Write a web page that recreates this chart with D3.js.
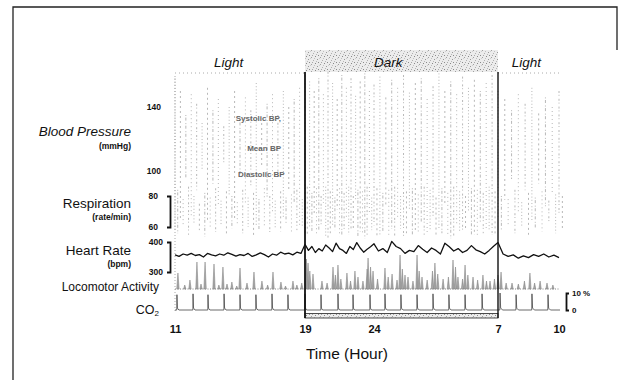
<!DOCTYPE html>
<html><head><meta charset="utf-8">
<script src="https://cdn.jsdelivr.net/npm/d3@7"></script>
<style>
body{margin:0;background:#fff}
svg{display:block}
text{font-family:"Liberation Sans",Arial,Helvetica,sans-serif;fill:#111}
</style>
</head><body>
<svg id="chart" width="620" height="380"></svg>
<script>
// ---------- data ----------
const timeTicks = [11, 19, 24, 31, 34];            // clock hours (next day +24)
const phaseNames = ["Light", "Dark", "Light"];
const phaseStart = [11, 19, 31];
const phaseEnd = [19, 31, 34.05];
const phaseLabelHour = [14.3, 24.8, 32.4];

// blood pressure streaks, every 20 min from 11:00 (mmHg)
const bpStart = 11, bpStep = 1 / 3;
const bpHigh = [158,150,135,148,142,130,152,138,145,128,140,150,132,146,138,155,130,142,148,135,150,140,145,152,
  160,156,150,158,148,162,155,145,160,152,158,147,156,161,150,154,159,146,157,152,160,149,155,158,145,153,161,150,156,148,159,152,157,150,155,160,
  150,145,138,148,142,152,136,146,140,150];
const bpLow = [62,70,95,72,88,100,68,92,78,105,85,70,98,80,90,66,102,84,74,96,70,88,80,66,
  60,64,72,62,80,58,66,76,60,70,64,82,62,58,74,66,60,78,64,70,58,76,62,68,60,72,64,80,58,66,62,74,60,68,64,60,
  70,82,95,74,88,68,92,78,85,72];

// respiration streaks (rate/min), every 20 min from 11:10
const respStart = 11 + 1 / 6, respStep = 1 / 3;
const respHigh = [84,78,86,80,75,82,79,85,77,83,80,76,84,79,82,78,85,80,77,83,79,81,84,78,
  86,82,85,80,86,83,79,85,82,86,80,84,83,86,79,85,82,84,86,80,83,85,81,86,84,79,85,82,86,83,80,85,84,82,86,83,
  80,78,84,76,82,79,83,77,81,80];
const respLow = [56,60,55,62,58,54,60,57,61,55,59,62,56,60,54,58,61,55,59,57,62,56,58,60,
  54,57,55,60,54,56,58,54,57,55,59,54,56,55,58,54,57,55,54,59,56,54,57,55,58,54,56,55,54,57,59,55,54,56,58,55,
  58,61,56,60,55,59,57,62,56,58];

// heart rate (bpm), every 15 min from 11:00
const hrStart = 11, hrStep = 0.25;
const heartRate = [357,352,360,356,362,355,358,350,362,357,354,360,356,364,359,353,358,355,362,352,357,364,358,350,360,356,366,360,363,357,366,362,
  392,372,385,365,378,370,390,380,368,396,378,372,362,385,375,398,380,366,376,384,394,370,378,365,402,385,378,362,372,368,388,376,365,380,372,360,396,384,370,378,365,372,388,374,368,360,372,386,
  398,360,352,357,346,354,348,358,352,360,350,356,348];

// locomotor activity bursts (hour, counts)
const locoHours = [11.18,11.6,11.92,12.35,12.6,12.85,13.4,13.7,13.95,14.2,14.5,14.8,15.0,15.43,15.86,16.35,16.7,17.03,17.52,17.8,18.26,18.5,18.8,
  19.1,19.22,19.35,19.58,20.23,20.6,21.03,21.2,21.39,21.6,22.04,22.3,22.62,22.84,23.2,23.5,23.57,23.75,23.93,24.2,24.62,24.8,25.02,25.3,25.47,25.6,25.75,25.92,26.2,26.43,26.55,26.71,27.0,27.3,27.44,27.6,27.9,28.2,28.46,28.6,28.74,29.0,29.14,29.3,29.59,29.85,30.15,30.35,30.55,30.8,31.0,
  31.15,31.4,31.69,32.0,32.3,32.57,32.8,33.07,33.41,33.7];
const locoValues = [16,4,9,27,5,27,25,4,22,5,7,3,21,6,17,8,4,17,7,3,8,4,6,
  30,26,18,15,8,6,22,14,24,10,16,8,18,12,8,20,31,22,18,10,21,12,15,9,34,20,14,12,8,34,18,12,9,18,26,15,10,12,29,22,12,10,24,14,12,9,14,8,8,10,14,
  17,6,6,5,8,16,6,8,6,4];

// CO2 calibration pulses (hour, %)
const co2Hours = [11.12,12.11,13.03,14.02,15.0,15.98,16.97,17.95,19.0,20.16,21.39,22.48,23.71,24.62,25.52,26.43,27.33,28.23,29.14,30.1,31.1,31.89,32.67,33.46];
const co2Values = [9,9.5,9,9.5,9,9,9.5,9,9.5,9,9.5,9,9,9.5,9,9,9.5,9,9,9.5,10,9,9.5,9];

// ---------- scales ----------
const svg = d3.select("#chart");
const x = d3.scaleLinear().domain(timeTicks).range([175, 305, 374, 498, 559]);
const yBP = d3.scaleLinear().domain([100, 140]).range([171, 107]);
const yResp = d3.scaleLinear().domain([60, 80]).range([227, 196]);
const yHR = d3.scaleLinear().domain([300, 400]).range([272, 242]);
const yLoco = d3.scaleLinear().domain([0, 35]).range([289, 254]);
const yCO2 = d3.scaleLinear().domain([0, 10]).range([310, 293]);

// ---------- defs ----------
const defs = svg.append("defs");
const pat = defs.append("pattern").attr("id", "stip").attr("width", 9).attr("height", 7)
  .attr("patternUnits", "userSpaceOnUse");
pat.append("rect").attr("width", 9).attr("height", 7).attr("fill", "#ececec");
[[0,0,"#888"],[5,1,"#a0a0a0"],[2,3,"#999"],[7,4,"#b0b0b0"],[3,6,"#8c8c8c"],[8,2,"#c0c0c0"],[1,5,"#b8b8b8"],[6,6,"#a8a8a8"],[4,2,"#cfcfcf"]].forEach(p =>
  pat.append("rect").attr("x", p[0]).attr("y", p[1]).attr("width", 1).attr("height", 1).attr("fill", p[2]));

// ---------- outer frame ----------
svg.append("path").attr("d", "M13,380V7H617V50").attr("fill", "none").attr("stroke", "#222").attr("stroke-width", 1.3);

// ---------- phases ----------
svg.append("rect").attr("x", x(19)).attr("y", 50).attr("width", x(31) - x(19)).attr("height", 22)
  .attr("fill", "url(#stip)");
[[11, 19], [31, 34.05]].forEach(r =>
  svg.append("line").attr("x1", x(r[0])).attr("x2", x(r[1])).attr("y1", 73).attr("y2", 73)
    .attr("stroke", "#aaa").attr("stroke-dasharray", "1,3"));
svg.selectAll(".phase").data(phaseNames).join("text")
  .attr("x", (d, i) => x(phaseLabelHour[i])).attr("y", 67)
  .attr("text-anchor", "middle").attr("font-size", 13.5).attr("font-style", "italic").text(d => d);

// faint left edge of recording
svg.append("line").attr("x1", x(11)).attr("x2", x(11)).attr("y1", 76).attr("y2", 312)
  .attr("stroke", "#aaa").attr("stroke-dasharray", "1,2");

// ---------- blood pressure streaks ----------
const dashes = ["1,2.2", "2,3", "1,1.6,3,2.5", "1,3", "2,1.8,1,3"];
svg.append("g").attr("opacity", 0.75).selectAll("line").data(bpHigh).join("line")
  .attr("x1", (d, i) => x(bpStart + i * bpStep)).attr("x2", (d, i) => x(bpStart + i * bpStep))
  .attr("y1", d => yBP(d)).attr("y2", (d, i) => yBP(bpLow[i]))
  .attr("stroke", "#8a8a8a").attr("stroke-width", 0.8)
  .attr("stroke-dasharray", (d, i) => dashes[i % dashes.length]);

// respiration streaks
svg.append("g").attr("opacity", 0.75).selectAll("line").data(respHigh).join("line")
  .attr("x1", (d, i) => x(respStart + i * respStep)).attr("x2", (d, i) => x(respStart + i * respStep))
  .attr("y1", d => yResp(d)).attr("y2", (d, i) => yResp(respLow[i]))
  .attr("stroke", "#8a8a8a").attr("stroke-width", 0.8)
  .attr("stroke-dasharray", (d, i) => dashes[(i + 2) % dashes.length]);

// ---------- heart rate ----------
svg.append("path").datum(heartRate)
  .attr("d", d3.line().x((d, i) => x(hrStart + i * hrStep)).y(d => yHR(d)))
  .attr("fill", "none").attr("stroke", "#111").attr("stroke-width", 1.3).attr("stroke-linejoin", "round");

// ---------- locomotor activity ----------
svg.append("line").attr("x1", x(11)).attr("x2", x(34.05)).attr("y1", yLoco(0)).attr("y2", yLoco(0))
  .attr("stroke", "#888").attr("stroke-dasharray", "1,1.5");
svg.append("g").selectAll("path").data(locoValues).join("path")
  .attr("d", (d, i) => {
    const cx = x(locoHours[i]);
    return `M${cx - 1.2},${yLoco(0)}L${cx},${yLoco(d)}L${cx + 1.2},${yLoco(0)}Z`;
  })
  .attr("fill", "#a8a8a8").attr("stroke", "#7a7a7a").attr("stroke-width", 0.5);

// ---------- CO2 ----------
const co2Pts = [[11, 0]];
co2Hours.forEach((t, i) => {
  co2Pts.push([t - 0.01, 0], [t, co2Values[i]], [t + 0.03, co2Values[i] * 0.12], [t + 0.12, 0]);
});
co2Pts.push([34.05, 0]);
svg.append("path").datum(co2Pts)
  .attr("d", d3.line().x(d => x(d[0])).y(d => yCO2(d[1])))
  .attr("fill", "none").attr("stroke", "#444").attr("stroke-width", 0.8);

// ---------- dark box ----------
svg.append("rect").attr("x", x(19)).attr("y", 313.5).attr("width", x(31) - x(19)).attr("height", 4.5)
  .attr("fill", "url(#stip)").attr("stroke", "#222").attr("stroke-width", 0.8);
svg.append("line").attr("x1", x(19)).attr("x2", x(19)).attr("y1", 72).attr("y2", 318)
  .attr("stroke", "#111").attr("stroke-width", 1.8);
svg.append("line").attr("x1", x(31)).attr("x2", x(31)).attr("y1", 72).attr("y2", 318)
  .attr("stroke", "#111").attr("stroke-width", 1.4);

// ---------- axes ----------
function styleAxis(g, fs, bold) {
  g.selectAll("text").attr("font-size", fs).attr("font-weight", bold ? "bold" : "normal")
    .attr("font-family", '"Liberation Sans",Arial,sans-serif').attr("fill", "#111");
}
const bpAxis = svg.append("g").attr("transform", "translate(163,0)")
  .call(d3.axisLeft(yBP).tickValues([100, 140]).tickSize(0).tickPadding(2));
bpAxis.select(".domain").remove();
styleAxis(bpAxis, 8.5, true);

const respAxis = svg.append("g").attr("transform", "translate(170,0)")
  .call(d3.axisLeft(yResp).tickValues([60, 80]).tickSizeInner(0).tickSizeOuter(3).tickPadding(12));
respAxis.select(".domain").attr("stroke", "#111").attr("stroke-width", 1.8);
styleAxis(respAxis, 8.5, true);

const hrAxis = svg.append("g").attr("transform", "translate(170,0)")
  .call(d3.axisLeft(yHR).tickValues([300, 400]).tickSizeInner(0).tickSizeOuter(3).tickPadding(7));
hrAxis.select(".domain").attr("stroke", "#111").attr("stroke-width", 1.8);
styleAxis(hrAxis, 8.5, true);

const co2Axis = svg.append("g").attr("transform", "translate(566,0)")
  .call(d3.axisRight(yCO2).tickValues([0, 10]).tickSizeInner(0).tickSizeOuter(3).tickPadding(6)
    .tickFormat(d => d === 10 ? "10 %" : d));
co2Axis.select(".domain").attr("stroke", "#111").attr("stroke-width", 1.8);
styleAxis(co2Axis, 8, true);

const xAxis = svg.append("g").attr("transform", "translate(0,318)")
  .call(d3.axisBottom(x).tickValues(timeTicks).tickSize(0).tickPadding(7)
    .tickFormat(h => h > 24 ? h - 24 : h));
xAxis.select(".domain").remove();
styleAxis(xAxis, 11, true);

svg.append("text").attr("x", 347).attr("y", 359).attr("text-anchor", "middle")
  .attr("font-size", 15.5).text("Time (Hour)");

// ---------- left labels ----------
const leftLabels = [
  {t: "Blood Pressure", y: 136, fs: 13.5, it: true},
  {t: "(mmHg)", y: 149, fs: 8.5, it: false, b: true},
  {t: "Respiration", y: 208, fs: 13.5},
  {t: "(rate/min)", y: 220, fs: 8.5, b: true},
  {t: "Heart Rate", y: 255, fs: 13.5},
  {t: "(bpm)", y: 267, fs: 8.5, b: true}
];
svg.selectAll(".ll").data(leftLabels).join("text")
  .attr("x", 131).attr("y", d => d.y).attr("text-anchor", "end")
  .attr("font-size", d => d.fs).attr("font-style", d => d.it ? "italic" : "normal")
  .attr("font-weight", d => d.b ? "bold" : "normal").text(d => d.t);
svg.append("text").attr("x", 159).attr("y", 291).attr("text-anchor", "end").attr("font-size", 12)
  .text("Locomotor Activity");
const co2t = svg.append("text").attr("x", 159).attr("y", 314).attr("text-anchor", "end").attr("font-size", 12.5);
co2t.append("tspan").text("CO");
co2t.append("tspan").attr("font-size", 8).attr("dy", 2).text("2");

// ---------- BP trace labels ----------
const bpLabels = [
  {t: "Systolic BP,", x: 281, y: 121, a: "end"},
  {t: "Mean BP", x: 281, y: 151, a: "end"},
  {t: "Diastolic  BP", x: 238, y: 177, a: "start"}
];
svg.selectAll(".bl").data(bpLabels).join("text")
  .attr("x", d => d.x).attr("y", d => d.y).attr("text-anchor", d => d.a)
  .attr("font-size", 8).attr("font-weight", "bold").style("fill", "#666").text(d => d.t);
</script>
</body></html>
